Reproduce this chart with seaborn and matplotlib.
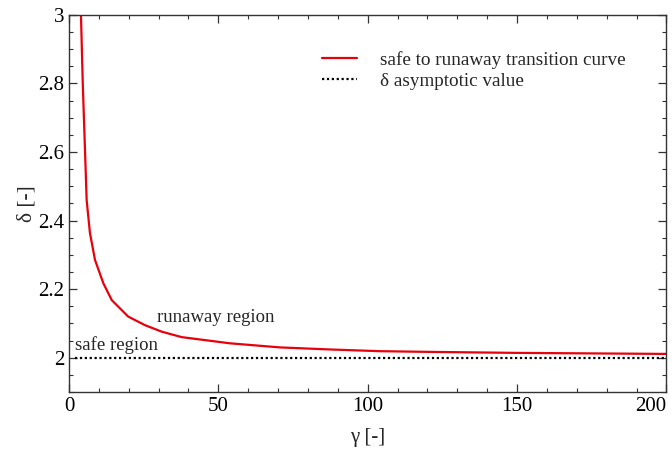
import numpy as np
import pandas as pd
import matplotlib
matplotlib.use("Agg")
import matplotlib.pyplot as plt
import seaborn as sns
from matplotlib.ticker import MultipleLocator

# ---------------- data ----------------
gamma = [3.9, 4.0, 4.6, 5.35, 5.9, 7.0, 8.7, 11.5, 14.3, 19.8, 25.4, 31.0,
         37.7, 53.8, 70.6, 87.3, 104.0, 120.0, 150.0, 200.0]
delta = [3.05, 3.0, 2.8, 2.606, 2.46, 2.364, 2.285, 2.217, 2.168, 2.12, 2.095, 2.076,
         2.06, 2.042, 2.030, 2.024, 2.019, 2.017, 2.014, 2.011]
asym_gamma = [2, 200]
asym_delta = [2.0, 2.0]

sns.set_style("ticks")
plt.rcParams["font.family"] = ["Liberation Serif", "DejaVu Serif"]

fig = plt.figure(figsize=(6.72, 4.49), dpi=100)
ax = fig.add_axes([0.1027, 0.127, 0.889, 0.84])

curve = pd.DataFrame({"gamma": gamma, "delta": delta})
sns.lineplot(data=curve, x="gamma", y="delta", ax=ax, color="#e8000b",
             linewidth=1.6, label="safe to runaway transition curve", sort=False)
sns.lineplot(x=asym_gamma, y=asym_delta, ax=ax, color="black", linewidth=1.6,
             linestyle=(0, (1, 1.2)), label="δ asymptotic value")

ax.set_xlim(0, 200)
ax.set_ylim(1.9, 3.0)
ax.xaxis.set_major_locator(MultipleLocator(50))
ax.xaxis.set_minor_locator(MultipleLocator(10))
ax.yaxis.set_major_locator(MultipleLocator(0.2))
ax.yaxis.set_minor_locator(MultipleLocator(0.05))
ax.yaxis.set_major_formatter(plt.FuncFormatter(lambda v, p: "" if v < 1.95 else f"{v:g}"))
ax.tick_params(which="both", direction="in", top=True, right=True, colors="#333333",
               labelcolor="black", labelsize=15)
ax.tick_params(which="major", length=6, width=0.9)
ax.tick_params(which="minor", length=3, width=0.8)
for s in ax.spines.values():
    s.set_color("#333333")
    s.set_linewidth(1.0)

ax.set_xlabel("γ [-]", fontsize=15, labelpad=9)
ax.set_ylabel("δ [-]", fontsize=15.5, labelpad=1)

ax.text(29.4, 2.116, "runaway region", fontsize=13.5, va="center", ha="left")
ax.text(2.0, 2.037, "safe region", fontsize=13.5, va="center", ha="left")

ax.legend(loc="upper right", bbox_to_anchor=(0.96, 0.95), frameon=False,
          fontsize=13.8, handlelength=1.8, handletextpad=1.2, labelspacing=0.2)

# "200" sits against the figure edge in the original, keep it inside
fig.canvas.draw()
for tick in ax.xaxis.get_major_ticks():
    if abs(tick.get_loc() - 200) < 1e-6:
        tick.label1.set_horizontalalignment("right")
        tick.label1.set_x(tick.label1.get_position()[0])

fig.savefig("out.png", dpi=100)
